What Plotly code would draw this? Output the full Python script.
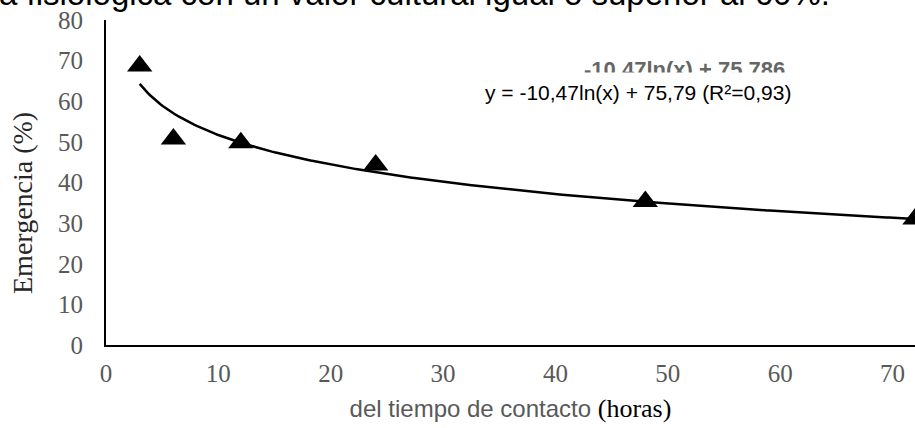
import numpy as np
import plotly.graph_objects as go

# Contact time (hours) and observed emergence (%)
horas = [3, 6, 12, 24, 48, 72]
emergencia = [68.7, 50.7, 49.8, 44.3, 35.3, 31.0]

# Logarithmic trend coefficients: y = a*ln(x) + b
coef_a = -10.47
coef_b = 75.79
r2 = 0.93

x_tick_vals = [0, 10, 20, 30, 40, 50, 60, 70]
y_tick_vals = [0, 10, 20, 30, 40, 50, 60, 70, 80]

W, H = 915, 428
M_L, M_R, M_T, M_B = 106, 0, 20, 83
PW = W - M_L - M_R
PH = H - M_T - M_B


def px_x(p):
    return (p - M_L) / PW


def px_y(p):
    return (H - M_B - p) / PH


x_fit = np.linspace(min(horas), max(horas), 300)
y_fit = coef_a * np.log(x_fit) + coef_b

fig = go.Figure()
fig.add_trace(go.Scatter(
    x=x_fit, y=y_fit, mode="lines",
    line=dict(color="black", width=2.5),
    hoverinfo="skip", showlegend=False,
))
fig.add_trace(go.Scatter(
    x=horas, y=emergencia, mode="markers",
    marker=dict(symbol="triangle-up", size=22, color="black"),
    showlegend=False,
))

serif_ticks = dict(family="Liberation Serif", size=25, color="#595959")

fig.update_xaxes(
    range=[0, 72], tickvals=x_tick_vals, showgrid=False, zeroline=False,
    showline=True, linecolor="black", linewidth=2, ticks="",
    tickfont=serif_ticks, ticklabelstandoff=5,
    title=dict(
        text=('<span style="font-family:Liberation Sans;color:#595959">'
              'del tiempo de contacto </span>'
              '<span style="font-family:Liberation Serif;color:black;font-size:26px">(horas)</span>'),
        font=dict(size=24), standoff=14,
    ),
)
fig.update_yaxes(
    range=[0, 80], tickvals=y_tick_vals, showgrid=False, zeroline=False,
    showline=True, linecolor="black", linewidth=2, ticks="",
    tickfont=serif_ticks, ticklabelstandoff=16,
)

annotations = [
    # running text of the page above the chart
    dict(text="a fisiológica con un valor cultural igual o superior al 60%.",
         xref="paper", yref="paper", x=px_x(-3), y=px_y(-6.5),
         xanchor="left", yanchor="middle", showarrow=False,
         font=dict(family="Liberation Sans", size=33, color="black")),
    # y axis title
    dict(text="Emergencia (%)", textangle=-90,
         xref="paper", yref="paper", x=px_x(22.5), y=px_y(203.5),
         xanchor="center", yanchor="middle", showarrow=False,
         font=dict(family="Liberation Serif", size=28, color="#262626")),
    # default trendline label
    dict(text=f"{coef_a:.2f}ln(x) + 75.786",
         xref="paper", yref="paper", x=px_x(684.5), y=px_y(69.7),
         xanchor="center", yanchor="middle", showarrow=False,
         font=dict(family="Liberation Sans", size=22, color="#666666",
                   weight="bold")),
    # edited trendline label on a white box
    dict(text=(f"y = {coef_a:.2f}ln(x) + {coef_b:.2f} (R²={r2:.2f})").replace(".", ","),
         xref="paper", yref="paper", x=px_x(638), y=px_y(92.7),
         xanchor="center", yanchor="middle", showarrow=False,
         bgcolor="white", borderpad=8,
         font=dict(family="Liberation Sans", size=21, color="black")),
]

fig.update_layout(
    width=W, height=H,
    margin=dict(l=M_L, r=M_R, t=M_T, b=M_B),
    paper_bgcolor="white", plot_bgcolor="white",
    annotations=annotations,
)

fig.write_html("out.html")
